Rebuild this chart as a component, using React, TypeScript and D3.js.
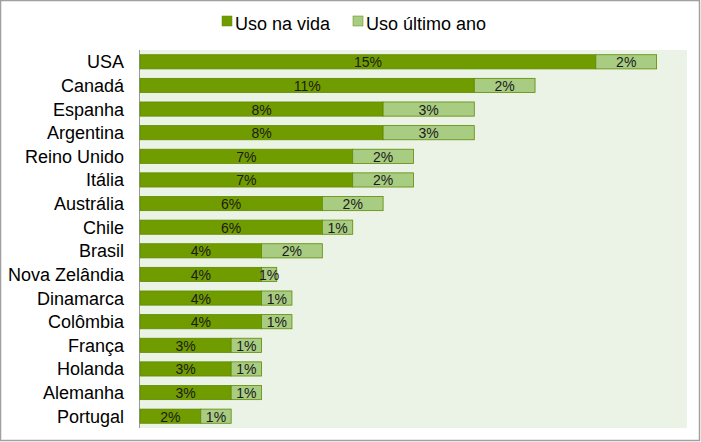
import React from "react";
import * as d3 from "d3";

const categories = ["USA","Canadá","Espanha","Argentina","Reino Unido","Itália","Austrália","Chile","Brasil","Nova Zelândia","Dinamarca","Colômbia","França","Holanda","Alemanha","Portugal"];
const usoNaVida = [15, 11, 8, 8, 7, 7, 6, 6, 4, 4, 4, 4, 3, 3, 3, 2];
const usoUltimoAno = [2, 2, 3, 3, 2, 2, 2, 1, 2, 0.5, 1, 1, 1, 1, 1, 1];
const labelsVida = ["15%","11%","8%","8%","7%","7%","6%","6%","4%","4%","4%","4%","3%","3%","3%","2%"];
const labelsAno = ["2%","2%","3%","3%","2%","2%","2%","1%","2%","1%","1%","1%","1%","1%","1%","1%"];
const seriesNames = ["Uso na vida", "Uso último ano"];

const W = 701, H = 442;
const plot = { left: 139, right: 687, top: 50, bottom: 428 };
const DARK = "#719c00";
const LIGHT = "#a9cc83";
const STROKE = "#5e8a00";
const BG = "#ebf3e6";
const FONT = "'Liberation Sans', Arial, sans-serif";

export default function App() {
  const x = d3.scaleLinear().domain([0, 18]).range([plot.left + 1, plot.right]);
  const y = d3.scaleBand<string>().domain(categories).range([plot.top, plot.bottom]).paddingInner(0.4).paddingOuter(0.2);
  const bh = y.bandwidth();
  return (
    <svg width={W} height={H} style={{ position: "absolute", left: 0, top: 0 }} fontFamily={FONT}>
      <rect x={0.5} y={0.5} width={699} height={440} fill="#fff" stroke="#a0a0a0" strokeWidth={1.5} />
      <rect x={plot.left} y={plot.top} width={plot.right - plot.left} height={plot.bottom - plot.top} fill={BG} />
      <line x1={plot.left + 0.5} x2={plot.left + 0.5} y1={plot.top} y2={plot.bottom} stroke="#9a9a9a" strokeWidth={1} />
      {categories.map((c, i) => {
        const yy = y(c)!;
        const x0 = x(0), x1 = x(usoNaVida[i]), x2 = x(usoNaVida[i] + usoUltimoAno[i]);
        return (
          <g key={c}>
            <rect x={x0} y={yy} width={x1 - x0} height={bh} fill={DARK} stroke={STROKE} strokeWidth={0.8} />
            <rect x={x1} y={yy} width={x2 - x1} height={bh} fill={LIGHT} stroke={STROKE} strokeWidth={0.8} />
            <text x={(x0 + x1) / 2} y={yy + bh / 2 + 5.5} textAnchor="middle" fontSize={14} fill="#1a1a1a">{labelsVida[i]}</text>
            <text x={(x1 + x2) / 2} y={yy + bh / 2 + 5.5} textAnchor="middle" fontSize={14} fill="#1a1a1a">{labelsAno[i]}</text>
            <text x={124} y={yy + bh / 2 + 6.5} textAnchor="end" fontSize={18} fill="#000">{c}</text>
          </g>
        );
      })}
      <g>
        <rect x={222} y={16} width={10} height={10} fill={DARK} stroke={STROKE} strokeWidth={0.5} />
        <text x={235} y={30} fontSize={18} fill="#000">{seriesNames[0]}</text>
        <rect x={353} y={16} width={10} height={10} fill={LIGHT} stroke={STROKE} strokeWidth={0.5} />
        <text x={366} y={30} fontSize={18} fill="#000">{seriesNames[1]}</text>
      </g>
    </svg>
  );
}
